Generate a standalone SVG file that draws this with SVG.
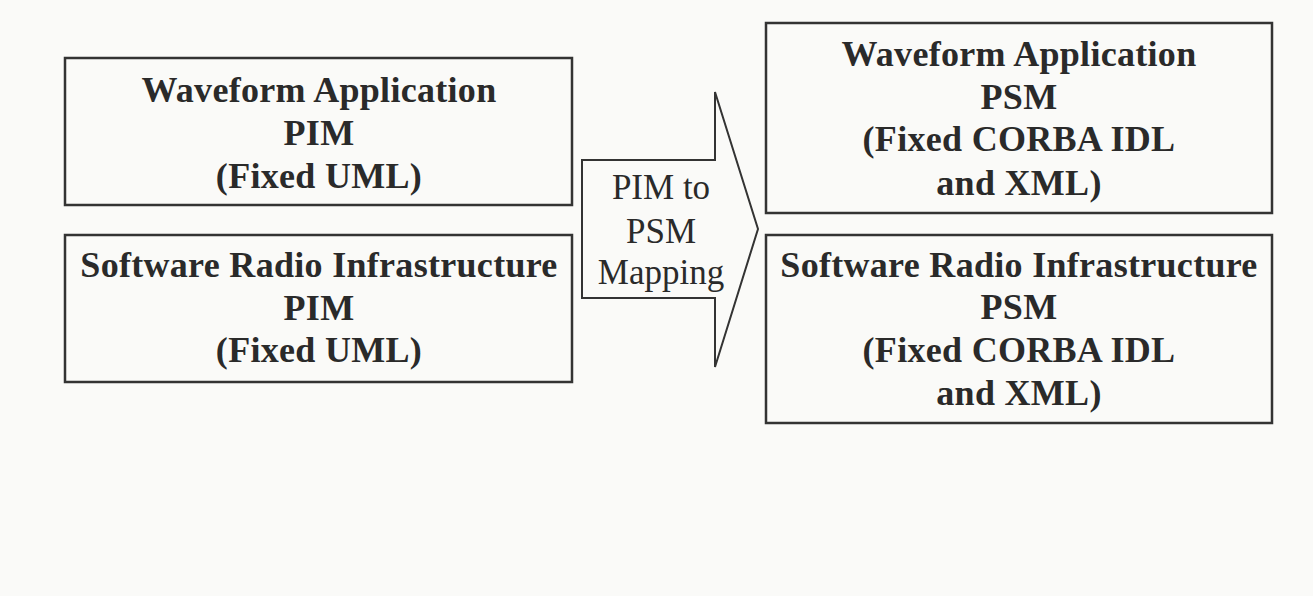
<svg xmlns="http://www.w3.org/2000/svg" width="1313" height="596" viewBox="0 0 1313 596">
<style>
.box{fill:none;stroke:#333;stroke-width:2.5}
.t{font-family:"Liberation Serif","Times New Roman",serif;font-size:36px;font-weight:bold;letter-spacing:0.3px;fill:#2a2a2a;text-anchor:middle}
.m{font-family:"Liberation Serif","Times New Roman",serif;font-size:35px;fill:#2a2a2a;text-anchor:middle}
</style>
<rect width="1313" height="596" fill="#fafaf8"/>
<g id="wf-pim">
<rect class="box" x="65" y="58" width="507" height="147"/>
<text class="t" x="319" y="102">Waveform Application</text>
<text class="t" x="319" y="145">PIM</text>
<text class="t" x="319" y="188">(Fixed UML)</text>
</g>
<g id="sri-pim">
<rect class="box" x="65" y="235" width="507" height="147"/>
<text class="t" x="319" y="277">Software Radio Infrastructure</text>
<text class="t" x="319" y="320">PIM</text>
<text class="t" x="319" y="362">(Fixed UML)</text>
</g>
<g id="connectors">
<g id="mapping-arrow">
<path d="M582,160 H715 V92 L758,229 L715,367 V298 H582 Z" fill="none" stroke="#333" stroke-width="2"/>
<text class="m" x="661" y="199">PIM to</text>
<text class="m" x="661" y="243">PSM</text>
<text class="m" x="661" y="284">Mapping</text>
</g>
</g>
<g id="wf-psm">
<rect class="box" x="766" y="23" width="506" height="190"/>
<text class="t" x="1019" y="66">Waveform Application</text>
<text class="t" x="1019" y="109">PSM</text>
<text class="t" x="1019" y="151">(Fixed CORBA IDL</text>
<text class="t" x="1019" y="195">and XML)</text>
</g>
<g id="sri-psm">
<rect class="box" x="766" y="235" width="506" height="188"/>
<text class="t" x="1019" y="277">Software Radio Infrastructure</text>
<text class="t" x="1019" y="319">PSM</text>
<text class="t" x="1019" y="362">(Fixed CORBA IDL</text>
<text class="t" x="1019" y="405">and XML)</text>
</g>
</svg>
